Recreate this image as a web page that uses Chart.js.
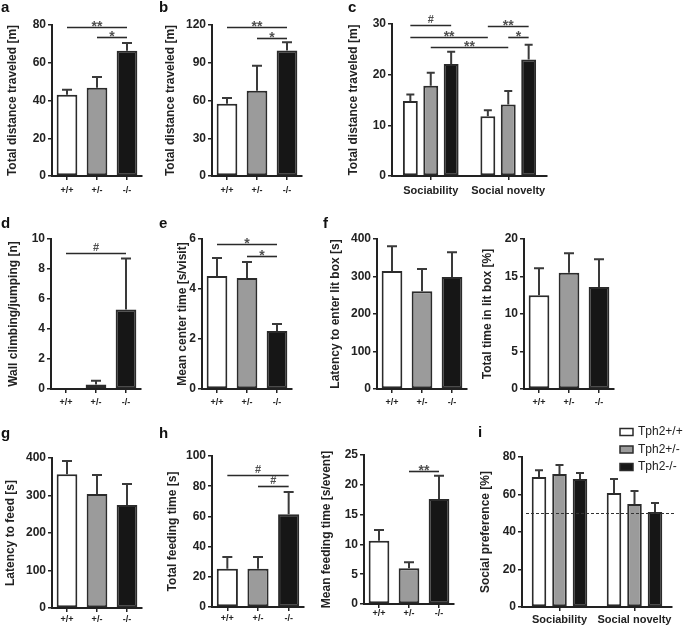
<!DOCTYPE html>
<html><head><meta charset="utf-8">
<script src="https://cdn.jsdelivr.net/npm/chart.js@4.4.0/dist/chart.umd.min.js"></script>
<style>
html,body{margin:0;padding:0;background:#fff;}
#fig{position:relative;width:685px;height:629px;overflow:hidden;background:#fff;}
#fig canvas{position:absolute;}
.lbl{position:absolute;font:bold 15px "Liberation Sans",Arial,sans-serif;color:#111;line-height:15px;}
</style></head><body><div id="fig"></div>
<script>
// ---------------- DATA ----------------
const genotypes = ['+/+', '+/-', '-/-'];
const tests = ['Sociability', 'Social novelty'];
const legendLabels = ['Tph2+/+', 'Tph2+/-', 'Tph2-/-'];

// a: open field total distance
const aMean = [43.0, 46.7, 66.3];
const aErr  = [2.7, 5.7, 4.2];
const aTicks = [0, 20, 40, 60, 80];
const aSig = [{from:[0,0], to:[0,2], y:79.1, text:'**'}, {from:[0,1], to:[0,2], y:73.5, text:'*'}];

// b
const bMean = [57.5, 67.8, 99.8];
const bErr  = [4.5, 19.9, 6.4];
const bTicks = [0, 30, 60, 90, 120];
const bSig = [{from:[0,0], to:[0,2], y:118.6, text:'**'}, {from:[0,1], to:[0,2], y:109.9, text:'*'}];

// c: three-chamber, by genotype across tests
const cWT  = [14.8, 11.8], cWTErr  = [1.3, 1.2];
const cHet = [17.8, 14.1], cHetErr = [2.6, 2.7];
const cKO  = [22.1, 23.0], cKOErr  = [2.4, 2.9];
const cTicks = [0, 10, 20, 30];
const cSig = [
  {from:[0,0], to:[2,0], y:29.8, text:'#'},
  {from:[0,0], to:[0,1], y:27.4, text:'**'},
  {from:[1,0], to:[1,1], y:25.4, text:'**'},
  {from:[0,1], to:[2,1], y:29.6, text:'**'},
  {from:[1,1], to:[2,1], y:27.4, text:'*'}
];

// d
const dMean = [0, 0.3, 5.3];
const dErr  = [0, 0.25, 3.4];
const dTicks = [0, 2, 4, 6, 8, 10];
const dSig = [{from:[0,0], to:[0,2], y:9.07, text:'#'}];

// e
const eMean = [4.52, 4.44, 2.32];
const eErr  = [0.72, 0.64, 0.28];
const eTicks = [0, 2, 4, 6];
const eSig = [{from:[0,0], to:[0,2], y:5.8, text:'*'}, {from:[0,1], to:[0,2], y:5.32, text:'*'}];

// f (left): latency to enter lit box
const f1Mean = [315, 261, 299];
const f1Err  = [66, 59, 66];
const f1Ticks = [0, 100, 200, 300, 400];

// f (right): total time in lit box
const f2Mean = [12.5, 15.5, 13.6];
const f2Err  = [3.6, 2.6, 3.7];
const f2Ticks = [0, 5, 10, 15, 20];

// g
const gMean = [357, 304, 275];
const gErr  = [35, 51, 56];
const gTicks = [0, 100, 200, 300, 400];

// h (left)
const h1Mean = [25.4, 25.4, 61.4];
const h1Err  = [7.7, 7.7, 14.8];
const h1Ticks = [0, 20, 40, 60, 80, 100];
const h1Sig = [{from:[0,0], to:[0,2], y:87.2, text:'#'}, {from:[0,1], to:[0,2], y:79.9, text:'#'}];

// h (right)
const h2Mean = [10.6, 6.0, 17.6];
const h2Err  = [1.8, 1.0, 3.9];
const h2Ticks = [0, 5, 10, 15, 20, 25];
const h2Sig = [{from:[0,1], to:[0,2], y:22.3, text:'**'}];

// i: social preference
const iWT  = [69.3, 60.8], iWTErr  = [3.7, 7.5];
const iHet = [71.0, 55.0], iHetErr = [4.7, 6.9];
const iKO  = [68.3, 50.7], iKOErr  = [3.2, 4.8];
const iTicks = [0, 20, 40, 60, 80];
const iChance = 50;

// ---------------- STYLE ----------------
const FONT = '"Liberation Sans", Arial, Helvetica, sans-serif';
const INK = '#222';
const EDGE = '#2b2b2b';
const FILLS = ['#ffffff', '#9b9b9b', '#161616'];
Chart.defaults.font.family = FONT;
Chart.defaults.color = INK;

const fig = document.getElementById('fig');

const errorBars = {
  id: 'errorBars',
  afterDatasetsDraw(chart) {
    const ctx = chart.ctx, ys = chart.scales.y;
    chart.data.datasets.forEach((ds, di) => {
      const meta = chart.getDatasetMeta(di);
      meta.data.forEach((el, i) => {
        const e = ds.errors ? ds.errors[i] : 0;
        if (!e) return;
        const v = ds.data[i];
        const y0 = ys.getPixelForValue(v), y1 = ys.getPixelForValue(v + e);
        const hw = (ds.capWidth || 10) / 2;
        ctx.save();
        ctx.strokeStyle = '#3a3a3a';
        ctx.lineWidth = 2;
        ctx.beginPath();
        ctx.moveTo(el.x, y0); ctx.lineTo(el.x, y1);
        ctx.moveTo(el.x - hw, y1); ctx.lineTo(el.x + hw, y1);
        ctx.stroke();
        ctx.restore();
      });
    });
  }
};

function sigPlugin(items) {
  return {
    id: 'sigMarks',
    afterDatasetsDraw(chart) {
      const ctx = chart.ctx, ys = chart.scales.y;
      items.forEach(it => {
        const x0 = chart.getDatasetMeta(it.from[0]).data[it.from[1]].x;
        const x1 = chart.getDatasetMeta(it.to[0]).data[it.to[1]].x;
        const yy = Math.round(ys.getPixelForValue(it.y)) + 0.5;
        ctx.save();
        ctx.strokeStyle = '#2a2a2a';
        ctx.lineWidth = 1.6;
        ctx.beginPath(); ctx.moveTo(x0, yy); ctx.lineTo(x1, yy); ctx.stroke();
        ctx.fillStyle = '#505050';
        ctx.textAlign = 'center';
        ctx.textBaseline = 'alphabetic';
        if (it.text.indexOf('#') >= 0) {
          ctx.font = 'bold 11px ' + FONT;
          ctx.fillText(it.text, (x0 + x1) / 2, yy - 2.5);
        } else {
          ctx.font = 'bold 14px ' + FONT;
          ctx.fillText(it.text, (x0 + x1) / 2, yy + 3);
        }
        ctx.restore();
      });
    }
  };
}

function chanceLine(value) {
  return {
    id: 'chanceLine',
    afterDatasetsDraw(chart) {
      const ctx = chart.ctx, ys = chart.scales.y, a = chart.chartArea;
      const yy = Math.round(ys.getPixelForValue(value)) + 0.5;
      ctx.save();
      ctx.strokeStyle = '#333';
      ctx.lineWidth = 1;
      ctx.setLineDash([3, 2]);
      ctx.beginPath(); ctx.moveTo(a.left + 4, yy); ctx.lineTo(a.right + 2, yy); ctx.stroke();
      ctx.restore();
    }
  };
}

function legendPlugin(L) {
  return {
    id: 'sideLegend',
    afterDraw(chart) {
      const ctx = chart.ctx;
      chart.data.datasets.forEach((ds, i) => {
        const cx = L.legX - L.cl, cy = L.legY - L.ct + i * L.legStep;
        ctx.save();
        ctx.fillStyle = ds.backgroundColor;
        ctx.strokeStyle = EDGE;
        ctx.lineWidth = 1.5;
        ctx.fillRect(cx, cy - 3.5, 13, 7);
        ctx.strokeRect(cx, cy - 3.5, 13, 7);
        ctx.fillStyle = INK;
        ctx.font = '12px ' + FONT;
        ctx.textAlign = 'left';
        ctx.textBaseline = 'middle';
        ctx.fillText(ds.label, cx + 18, cy);
        ctx.restore();
      });
    }
  };
}

function panel(L, labels, datasets, yTicks, yTitle, extraPlugins, xFontSize) {
  const cv = document.createElement('canvas');
  const w = L.right + L.padR - L.cl;
  const h = L.bottom + L.xH - L.ct;
  cv.width = w; cv.height = h;
  cv.style.left = L.cl + 'px'; cv.style.top = L.ct + 'px';
  cv.style.width = w + 'px'; cv.style.height = h + 'px';
  fig.appendChild(cv);
  const yW = L.ax - L.cl;
  new Chart(cv, {
    type: 'bar',
    data: { labels: labels, datasets: datasets },
    options: {
      responsive: false, animation: false, devicePixelRatio: 1,
      layout: { padding: { top: L.at - L.ct, right: L.padR, left: 0, bottom: 0 } },
      plugins: { legend: { display: false }, tooltip: { enabled: false } },
      scales: {
        x: {
          offset: true,
          ticks: { color: INK, font: { size: xFontSize, weight: 'bold' }, padding: L.xPad, maxRotation: 0, autoSkip: false },
          grid: { drawOnChartArea: false, drawTicks: true, tickLength: 4, color: INK, lineWidth: 1.5, offset: false },
          border: { display: true, color: INK, width: 2 },
          afterFit: s => { s.height = L.xH; }
        },
        y: {
          min: 0, max: yTicks[yTicks.length - 1],
          afterBuildTicks: s => { s.ticks = yTicks.map(v => ({ value: v })); },
          ticks: { color: INK, font: { size: 12, weight: 'bold' }, padding: 2 },
          grid: { drawOnChartArea: false, drawTicks: true, tickLength: 4, color: INK, lineWidth: 1.5 },
          border: { display: true, color: INK, width: 2 },
          title: { display: true, text: yTitle, color: INK, font: { size: 12, weight: 'bold' }, padding: { top: 1, bottom: 0 } },
          afterFit: s => { s.width = yW; }
        }
      }
    },
    plugins: [errorBars].concat(extraPlugins)
  });
}

function single(mean, err) {
  return [{ data: mean, errors: err, backgroundColor: FILLS, borderColor: EDGE, borderWidth: 2,
            borderSkipped: false, barPercentage: 0.69, categoryPercentage: 1, capWidth: 10 }];
}
function grouped(series, errs, catPct, barPct) {
  return series.map((s, k) => ({ label: legendLabels[k], data: s, errors: errs[k], backgroundColor: FILLS[k],
      borderColor: EDGE, borderWidth: 2, borderSkipped: false, barPercentage: barPct, categoryPercentage: catPct, capWidth: 8 }));
}

// ---------------- LAYOUT ----------------
const Lay = {
  a:  { cl: 4,   ct: 0,   ax: 52,  right: 142, at: 25,  bottom: 176, xH: 22, padR: 4, xPad: 5 },
  b:  { cl: 162, ct: 0,   ax: 212, right: 302, at: 25,  bottom: 176, xH: 22, padR: 4, xPad: 5 },
  c:  { cl: 345, ct: 0,   ax: 392, right: 547, at: 24,  bottom: 176, xH: 22, padR: 4, xPad: 4 },
  d:  { cl: 5,   ct: 200, ax: 51,  right: 141, at: 239, bottom: 389, xH: 22, padR: 4, xPad: 4.5 },
  e:  { cl: 174, ct: 200, ax: 202, right: 292, at: 239, bottom: 389, xH: 22, padR: 4, xPad: 4.5 },
  f1: { cl: 327, ct: 200, ax: 377, right: 467, at: 239, bottom: 389, xH: 22, padR: 4, xPad: 4.5 },
  f2: { cl: 479, ct: 200, ax: 524, right: 614, at: 239, bottom: 389, xH: 22, padR: 4, xPad: 4.5 },
  g:  { cl: 2,   ct: 415, ax: 52,  right: 142, at: 458, bottom: 608, xH: 21, padR: 4, xPad: 2.5 },
  h1: { cl: 164, ct: 415, ax: 212, right: 304, at: 456, bottom: 607, xH: 22, padR: 4, xPad: 2.5 },
  h2: { cl: 318, ct: 415, ax: 364, right: 454, at: 455, bottom: 604, xH: 22, padR: 4, xPad: 0.5 },
  i:  { cl: 477, ct: 415, ax: 522, right: 672, at: 457, bottom: 607, xH: 22, padR: 13, xPad: 2.5,
        legX: 620, legY: 432, legStep: 17.5 }
};

const TD = 'Total distance traveled [m]';
panel(Lay.a, genotypes, single(aMean, aErr), aTicks, TD, [sigPlugin(aSig)], 9);
panel(Lay.b, genotypes, single(bMean, bErr), bTicks, TD, [sigPlugin(bSig)], 9);
panel(Lay.c, tests, grouped([cWT, cHet, cKO], [cWTErr, cHetErr, cKOErr], 0.79, 0.73), cTicks, TD, [sigPlugin(cSig)], 11);
panel(Lay.d, genotypes, single(dMean, dErr), dTicks, 'Wall climbing/jumping [n]', [sigPlugin(dSig)], 9);
panel(Lay.e, genotypes, single(eMean, eErr), eTicks, 'Mean center time [s/visit]', [sigPlugin(eSig)], 9);
panel(Lay.f1, genotypes, single(f1Mean, f1Err), f1Ticks, 'Latency to enter lit box [s]', [], 9);
panel(Lay.f2, genotypes, single(f2Mean, f2Err), f2Ticks, 'Total time in lit box [%]', [], 9);
panel(Lay.g, genotypes, single(gMean, gErr), gTicks, 'Latency to feed [s]', [], 9);
panel(Lay.h1, genotypes, single(h1Mean, h1Err), h1Ticks, 'Total feeding time [s]', [sigPlugin(h1Sig)], 9);
panel(Lay.h2, genotypes, single(h2Mean, h2Err), h2Ticks, 'Mean feeding time [s/event]', [sigPlugin(h2Sig)], 9);
panel(Lay.i, tests, grouped([iWT, iHet, iKO], [iWTErr, iHetErr, iKOErr], 0.82, 0.71), iTicks, 'Social preference [%]',
      [chanceLine(iChance), legendPlugin(Lay.i)], 11);

// panel letters
const letters = [['a',1,12],['b',159,12],['c',348,12],['d',1,228],['e',159,228],['f',323,228],['g',1,438],['h',159,438],['i',478,437]];
letters.forEach(([t, x, base]) => {
  const d = document.createElement('div');
  d.className = 'lbl'; d.textContent = t;
  d.style.left = x + 'px'; d.style.top = (base - 12.7) + 'px';
  fig.appendChild(d);
});
</script>
</body></html>
